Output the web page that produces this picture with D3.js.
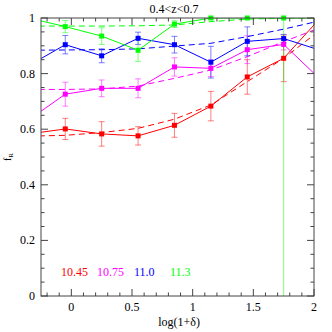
<!DOCTYPE html>
<html>
<head>
<meta charset="utf-8">
<script src="https://cdn.jsdelivr.net/npm/d3@7"></script>
<style>
  body { margin: 0; background: #fff; }
  text { font-family: "Liberation Serif", "DejaVu Serif", serif; }
</style>
</head>
<body>
<svg id="chart" width="332" height="332"></svg>
<script>
// bin centres in log(1+delta); first and last are off-panel ends of the lines
var xBins = [-0.35, -0.05, 0.25, 0.55, 0.85, 1.15, 1.45, 1.75, 2.05];
var massLabels = ['10.45', '10.75', '11.0', '11.3'];
var colors = ['#ff0000', '#ff00ff', '#0000ff', '#00ff00'];

var redFrac = [0.583, 0.601, 0.583, 0.576, 0.614, 0.683, 0.788, 0.855, 0.999];
var redErr = [null, 0.038, 0.044, 0.033, 0.043, 0.053, 0.062, 0.084, null];
var redModel = [0.575, 0.578, 0.588, 0.603, 0.636, 0.687, 0.771, 0.855, 0.956];

var magFrac = [0.634, 0.726, 0.747, 0.747, 0.824, 0.819, 0.886, 0.905, 0.78];
var magErr = [null, 0.043, 0.03, 0.034, 0.033, 0.03, 0.05, 0.02, null];
var magModel = [0.743, 0.743, 0.745, 0.755, 0.783, 0.813, 0.861, 0.915, 0.965];

var blueFrac = [0.829, 0.904, 0.864, 0.927, 0.904, 0.841, 0.916, 0.926, 0.884];
var blueErr = [null, 0.033, 0.025, 0.022, 0.03, 0.057, 0.052, 0.015, null];
var blueModel = [0.884, 0.885, 0.886, 0.889, 0.899, 0.909, 0.933, 0.96, 0.99];

var greenFrac = [1.0, 0.969, 0.935, 0.884, 0.978, 1.0, 1.0, 1.0, 1.0];
var greenErr = [null, 0.022, 0.03, 0.04, 0.012, 0.005, 0.005, 1.05, null];
var greenModel = [0.971, 0.971, 0.971, 0.972, 0.975, 0.987, 0.996, 0.999, 1.0];

var xMajor = [0, 0.5, 1, 1.5, 2];
var yMajor = [0, 0.2, 0.4, 0.6, 0.8, 1];

var series = [
  { frac: redFrac, err: redErr, model: redModel },
  { frac: magFrac, err: magErr, model: magModel },
  { frac: blueFrac, err: blueErr, model: blueModel },
  { frac: greenFrac, err: greenErr, model: greenModel },
];

var svg = d3.select('#chart'),
  margin = { top: 18, right: 18, bottom: 36, left: 41 },
  width = +svg.attr('width'),
  height = +svg.attr('height');

var x = d3.scaleLinear().domain([-0.25, 2]).range([margin.left, width - margin.right]);
var y = d3.scaleLinear().domain([0, 1]).range([height - margin.bottom, margin.top]);

svg.append('clipPath').attr('id', 'clip')
  .append('rect')
  .attr('x', x(-0.25)).attr('y', y(1))
  .attr('width', x(2) - x(-0.25)).attr('height', y(0) - y(1));

var plot = svg.append('g').attr('clip-path', 'url(#clip)');

series.forEach(function(s, i) {
  var pts = xBins.map(function(b, j) {
    return { x: b, f: s.frac[j], e: s.err[j], m: s.model[j] };
  });
  var line = d3.line().x(function(d) { return x(d.x); });

  plot.append('path')
    .datum(pts)
    .attr('fill', 'none')
    .attr('stroke', colors[i])
    .attr('stroke-width', 1)
    .attr('stroke-dasharray', '6,4')
    .attr('d', line.y(function(d) { return y(d.m); }));

  plot.append('path')
    .datum(pts)
    .attr('fill', 'none')
    .attr('stroke', colors[i])
    .attr('stroke-width', 1)
    .attr('d', line.y(function(d) { return y(d.f); }));

  var withErr = pts.filter(function(d) { return d.e != null; });
  var eb = plot.append('g')
    .attr('stroke', colors[i])
    .attr('stroke-opacity', 0.5)
    .attr('stroke-width', 1);
  withErr.forEach(function(d) {
    var cx = x(d.x);
    eb.append('line').attr('x1', cx).attr('x2', cx)
      .attr('y1', y(d.f - d.e)).attr('y2', y(d.f + d.e));
    [d.f - d.e, d.f + d.e].forEach(function(v) {
      eb.append('line').attr('x1', cx - 3).attr('x2', cx + 3)
        .attr('y1', y(v)).attr('y2', y(v));
    });
  });

  svg.append('g')
    .selectAll('rect')
    .data(withErr)
    .enter()
    .append('rect')
    .attr('x', function(d) { return x(d.x) - 2.5; })
    .attr('y', function(d) { return y(d.f) - 2.5; })
    .attr('width', 5)
    .attr('height', 5)
    .attr('fill', colors[i]);
});

// frame with ticks on all four sides, pointing inwards
var axisColor = '#444';
var frame = svg.append('g').attr('stroke', axisColor).attr('stroke-width', 1);
frame.append('rect')
  .attr('x', x(-0.25)).attr('y', y(1))
  .attr('width', x(2) - x(-0.25)).attr('height', y(0) - y(1))
  .attr('fill', 'none');

d3.range(-0.2, 2.001, 0.1).forEach(function(v) {
  v = Math.round(v * 10) / 10;
  var len = xMajor.indexOf(v) >= 0 ? 7 : 3.5;
  frame.append('line').attr('x1', x(v)).attr('x2', x(v)).attr('y1', y(0)).attr('y2', y(0) - len);
  frame.append('line').attr('x1', x(v)).attr('x2', x(v)).attr('y1', y(1)).attr('y2', y(1) + len);
});
d3.range(0, 1.001, 0.05).forEach(function(v) {
  v = Math.round(v * 100) / 100;
  var len = yMajor.indexOf(v) >= 0 ? 7 : 3.5;
  frame.append('line').attr('x1', x(-0.25)).attr('x2', x(-0.25) + len).attr('y1', y(v)).attr('y2', y(v));
  frame.append('line').attr('x1', x(2)).attr('x2', x(2) - len).attr('y1', y(v)).attr('y2', y(v));
});

var fs = 12;
svg.append('g').selectAll('text')
  .data(xMajor).enter().append('text')
  .attr('x', function(d) { return x(d); })
  .attr('y', y(0) + 15)
  .attr('text-anchor', 'middle')
  .attr('font-size', fs)
  .text(function(d) { return d; });

svg.append('g').selectAll('text')
  .data(yMajor).enter().append('text')
  .attr('x', x(-0.25) - 6)
  .attr('y', function(d) { return y(d) + 4; })
  .attr('text-anchor', 'end')
  .attr('font-size', fs)
  .text(function(d) { return d; });

svg.append('text')
  .attr('x', 174).attr('y', 13)
  .attr('text-anchor', 'middle')
  .attr('font-size', fs)
  .text('0.4<z<0.7');

svg.append('text')
  .attr('x', 179).attr('y', 326)
  .attr('text-anchor', 'middle')
  .attr('font-size', fs)
  .text('log(1+\u03b4)');

var yl = svg.append('text')
  .attr('transform', 'translate(11,157) rotate(-90)')
  .attr('text-anchor', 'middle')
  .attr('font-size', 10);
yl.append('tspan').text('f');
yl.append('tspan').attr('font-size', 7).attr('dy', 2).text('R');

var legendX = [61, 97, 134, 170];
svg.append('g').selectAll('text')
  .data(massLabels).enter().append('text')
  .attr('x', function(d, i) { return legendX[i]; })
  .attr('y', 276)
  .attr('font-size', fs)
  .attr('fill', function(d, i) { return colors[i]; })
  .text(function(d) { return d; });
</script>
</body>
</html>
